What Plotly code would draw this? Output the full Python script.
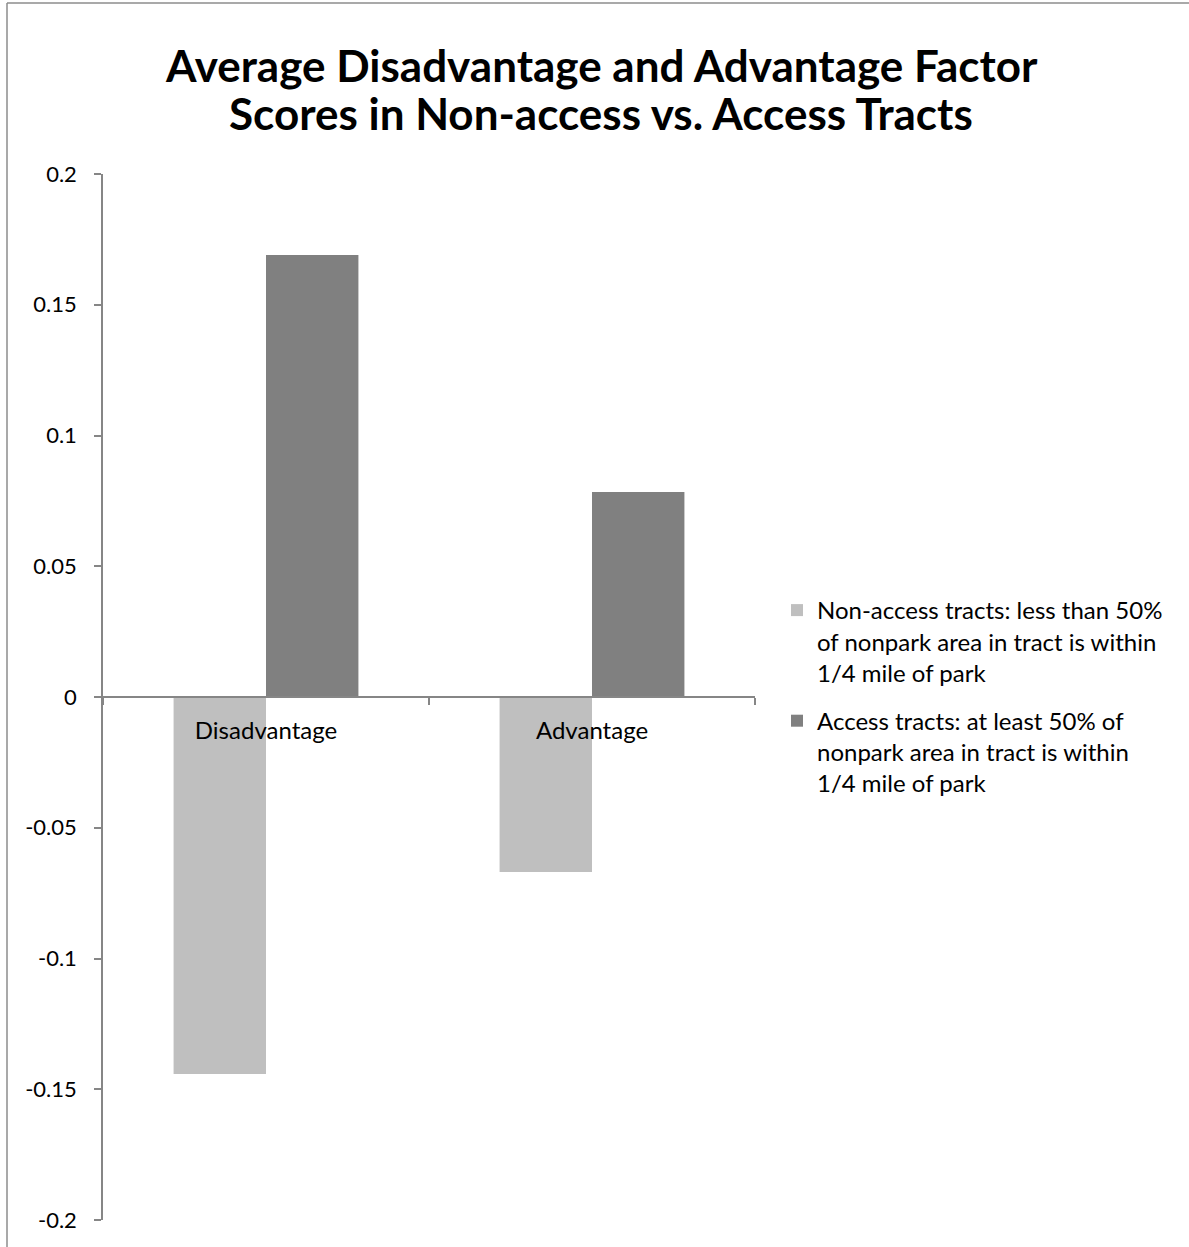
import plotly.graph_objects as go

categories = ["Disadvantage", "Advantage"]
non_access = [-0.1442, -0.0669]
access = [0.1690, 0.0784]
series_names = [
    "Non-access tracts: less than 50%<br>of nonpark area in tract is within<br>1/4 mile of park",
    "Access tracts: at least 50% of<br>nonpark area in tract is within<br>1/4 mile of park",
]
y_tickvals = [0.2, 0.15, 0.1, 0.05, 0, -0.05, -0.1, -0.15, -0.2]
y_ticktext = ["0.2", "0.15", "0.1", "0.05", "0", "-0.05", "-0.1", "-0.15", "-0.2"]
title_lines = ["Average Disadvantage and Advantage Factor",
               "Scores in Non-access vs. Access Tracts"]

FONT = "Lato"
AX = "#868686"

fig = go.Figure()
fig.add_trace(go.Bar(x=categories, y=non_access, name=series_names[0], legendgroup="a",
                     marker=dict(color="#BFBFBF", line=dict(width=0))))
fig.add_trace(go.Bar(x=categories, y=access, name=series_names[1], legendgroup="b",
                     marker=dict(color="#808080", line=dict(width=0))))

W, H = 1189, 1247
L, R, T, B = 103, 434, 174, 27
pw = W - L - R
ph = H - T - B

def px2paperx(px):
    return (px - L) / pw

def px2papery(py):
    return (H - B - py) / ph

fig.update_layout(
    width=W, height=H,
    margin=dict(l=L, r=R, t=T, b=B, autoexpand=False),
    paper_bgcolor="white", plot_bgcolor="white",
    font=dict(family=FONT, size=20, color="black"),
    barmode="group", bargap=0.433, bargroupgap=0,
    showlegend=True,
    legend=dict(x=px2paperx(777), y=px2papery(588), xanchor="left", yanchor="top",
                font=dict(family=FONT, size=24), tracegroupgap=14, valign="top",
                traceorder="grouped", itemwidth=30),
    xaxis=dict(type="category", range=[-0.5, 1.5], anchor="free", position=0.5,
               showline=True, linecolor=AX, linewidth=1.5,
               ticks="outside", tickson="boundaries", ticklen=7, tickcolor=AX, tickwidth=1.5,
               showgrid=False, zeroline=False, ticklabelstandoff=12,
               tickfont=dict(family=FONT, size=24)),
    yaxis=dict(range=[-0.2, 0.2], tickvals=y_tickvals, ticktext=y_ticktext,
               showline=True, linecolor=AX, linewidth=1.5,
               ticks="outside", ticklen=7, tickcolor=AX, tickwidth=1.5,
               showgrid=False, zeroline=False, ticklabelstandoff=13,
               tickfont=dict(family=FONT, size=22)),
)

# title as two centred lines
for text, ypx in zip(title_lines, [65, 113]):
    fig.add_annotation(text=text, xref="paper", yref="paper",
                       x=px2paperx(601), y=px2papery(ypx), xanchor="center", yanchor="middle",
                       showarrow=False,
                       font=dict(family=FONT, size=44, color="black", weight="bold"))

# chart area border (left and top)
fig.add_shape(type="line", xref="paper", yref="paper",
              x0=px2paperx(7), x1=px2paperx(1189), y0=px2papery(3), y1=px2papery(3),
              line=dict(color="#8C8C8C", width=1.5))
fig.add_shape(type="line", xref="paper", yref="paper",
              x0=px2paperx(7), x1=px2paperx(7), y0=px2papery(3), y1=px2papery(1247),
              line=dict(color="#8C8C8C", width=1.5))

fig.write_html("out.html")
